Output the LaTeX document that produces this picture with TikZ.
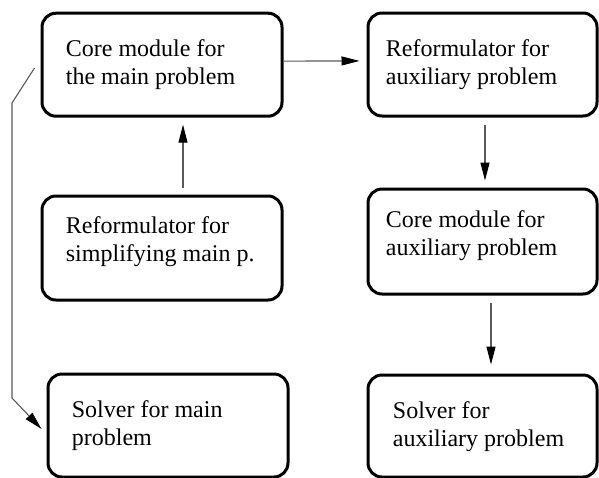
\documentclass[tikz,border=0pt]{standalone}
\usepackage{fontspec}
\setmainfont{Liberation Serif}
\usetikzlibrary{arrows.meta}
\tikzset{
  box/.style={draw=black, line width=1.5pt, rounded corners=7pt, inner sep=0pt},
  txt/.style={inner sep=0pt, anchor=west, align=left,
    font=\fontsize{12pt}{14pt}\selectfont},
  conn/.style={draw=black!65, line width=0.55pt,
    -{Triangle[length=9pt,width=4.5pt,color=black]}},
}
\begin{document}
\begin{tikzpicture}[x=0.5pt,y=-0.5pt]
\useasboundingbox (0,0) rectangle (599,477);
\clip (0,0) rectangle (599,477);
% boxes
\node[box, minimum width=120pt, minimum height=51.5pt] (b1) at (162,64.7) {};
\node[box, minimum width=114.5pt, minimum height=51.5pt] (b2) at (482.5,64.5) {};
\node[box, minimum width=120pt, minimum height=52pt] (b3) at (162,248) {};
\node[box, minimum width=114.5pt, minimum height=52.5pt] (b4) at (482.5,241.5) {};
\node[box, minimum width=120pt, minimum height=51.5pt] (b5) at (168,425.5) {};
\node[box, minimum width=114.5pt, minimum height=51pt] (b6) at (482.5,426) {};
% texts
\node[txt] (t1) at ([xshift=12.5pt]b1.west) {Core module for\\the main problem};
\node[txt] (t2) at ([xshift=9.5pt]b2.west) {Reformulator for\\auxiliary problem};
\node[txt] (t3) at ([xshift=12.5pt,yshift=3pt]b3.west) {Reformulator for\\simplifying main p.};
\node[txt] (t4) at ([xshift=9.5pt,yshift=3pt]b4.west) {Core module for\\auxiliary problem};
\node[txt] (t5) at ([xshift=12.5pt]b5.west) {Solver for main\\problem};
\node[txt] (t6) at ([xshift=13pt,yshift=-0.5pt]b6.west) {Solver for\\auxiliary problem};
% connectors
\draw[conn, shorten >=3.5pt] ([yshift=1.8pt]b1.east) -- ([yshift=1.8pt]b2.west);
\draw[conn, shorten <=3.5pt, shorten >=3.5pt] ([xshift=10.5pt]b3.north) -- ([xshift=10.5pt]b1.south);
\draw[conn, shorten <=3.5pt, shorten >=3.5pt] ([xshift=1.25pt]b2.south) -- ([xshift=1.25pt]b4.north);
\draw[conn, shorten <=3.5pt, shorten >=4.5pt] ([xshift=4.25pt]b4.south) -- ([xshift=4.25pt]b6.north);
\coordinate (p1) at (12,103);
\coordinate (p2) at (12,398);
\draw[conn] ([xshift=-3pt,yshift=-1.65pt]b1.west) -- (p1) -- (p2) -- ([xshift=-2.5pt,yshift=-1.75pt]b5.west);
\end{tikzpicture}
\end{document}
